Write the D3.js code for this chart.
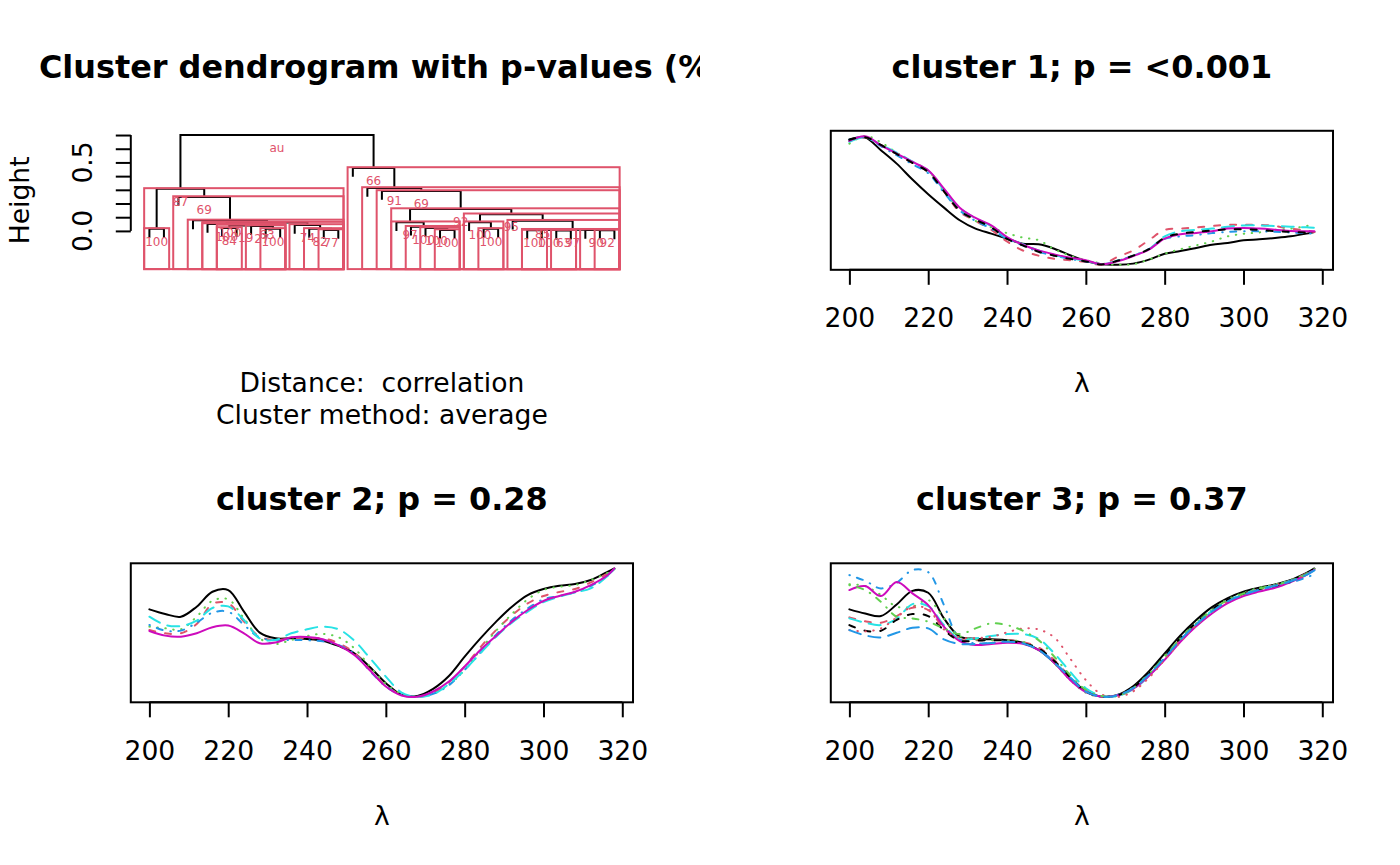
<!DOCTYPE html>
<html><head><meta charset="utf-8">
<script src="https://cdn.jsdelivr.net/npm/d3@7"></script>
<style>
html,body{margin:0;padding:0;background:#fff;}
svg{display:block;font-family:"DejaVu Sans",sans-serif;}
</style></head><body>
<svg id="chart" width="1400" height="865"></svg>
<script>
// ---------------- DATA ----------------
// dendrogram (hclust-style merge table; negative = leaf, positive = earlier merge)
const mergeLeft   = [-13,-12,-11,-9,-8,-6, 6,-5, 8,-4,-3,-1,12,-21,-20,-19,-18,-24,-23,-27,-29,20,-32,-31,22,-26,19,17,-17,-16,-15,13];
const mergeRight  = [-14,  1,  2,-10, 4,-7, 5, 7, 3, 9,10,-2,11,-22, 14, 15, 16,-25, 18,-28,-30,21,-33, 23,24, 25,26,27, 28, 29, 30,31];
const mergeHeight = [0.007,0.015,0.044,0.015,0.036,0.022,0.040,0.051,0.061,0.077,0.248,0.015,0.307,
                     0.007,0.022,0.031,0.064,0.015,0.064,0.004,0.003,0.006,0.005,0.007,0.009,0.075,0.122,0.160,0.292,0.314,0.460,0.700];
const mergeAU     = ["77","82","74","100","27","84","19","100","63","100","69","100","87",
                     "100","100","100","97","100","100","100","63","100","92","90","97","85","95","92","69","91","66","au"];
const heightTicks = [0,0.1,0.2,0.3,0.4,0.5,0.6,0.7];
const heightTickLabels = ["0.0","","","","","0.5","",""];

// spectra
const wavelengths = [200,204,208,212,216,220,224,228,232,236,240,244,248,252,256,260,264,268,272,276,280,284,288,292,296,300,304,308,312,316,318];
const xTicks = [200,220,240,260,280,300,320];

const c1s1 = [0.972,0.987,0.889,0.785,0.661,0.547,0.443,0.345,0.280,0.241,0.202,0.163,0.158,0.124,0.073,0.028,0.003,0.000,0.008,0.039,0.085,0.106,0.130,0.155,0.168,0.189,0.197,0.207,0.220,0.241,0.254];
const c1s2 = [0.96,0.99,0.93,0.86,0.79,0.72,0.57,0.41,0.34,0.27,0.18,0.11,0.07,0.045,0.035,0.02,0.0,0.06,0.11,0.19,0.27,0.28,0.29,0.30,0.31,0.31,0.31,0.30,0.28,0.265,0.254];
const c1s3 = [0.94,1.0,0.95,0.87,0.80,0.73,0.57,0.43,0.34,0.29,0.245,0.21,0.19,0.12,0.07,0.035,0.01,0.0,0.003,0.04,0.085,0.12,0.15,0.18,0.22,0.24,0.25,0.27,0.28,0.30,0.313];
const c1s4 = [0.97,0.99,0.92,0.85,0.78,0.71,0.56,0.42,0.34,0.28,0.20,0.15,0.10,0.07,0.045,0.025,0.003,0.03,0.07,0.12,0.20,0.22,0.23,0.245,0.255,0.26,0.26,0.255,0.25,0.245,0.24];
const c1s5 = [0.955,0.99,0.93,0.87,0.80,0.73,0.58,0.44,0.36,0.30,0.21,0.16,0.11,0.075,0.05,0.03,0.005,0.03,0.07,0.12,0.22,0.26,0.27,0.28,0.295,0.305,0.305,0.30,0.295,0.29,0.287];
const c1s6 = [0.961,0.997,0.927,0.863,0.798,0.733,0.591,0.443,0.363,0.306,0.215,0.155,0.111,0.080,0.054,0.034,0.003,0.026,0.067,0.117,0.202,0.236,0.246,0.259,0.280,0.285,0.280,0.272,0.262,0.259,0.259];
const c1s7 = [0.97,0.99,0.93,0.86,0.79,0.72,0.57,0.42,0.35,0.29,0.20,0.15,0.10,0.07,0.045,0.025,0.002,0.03,0.07,0.12,0.21,0.24,0.255,0.265,0.275,0.275,0.27,0.26,0.255,0.25,0.246];

const c2s1 = [0.682,0.646,0.625,0.703,0.819,0.832,0.664,0.501,0.457,0.457,0.452,0.439,0.398,0.341,0.233,0.109,0.018,0.010,0.065,0.165,0.315,0.457,0.587,0.703,0.793,0.840,0.866,0.879,0.910,0.969,1.0];
const c2s2 = [0.522,0.496,0.496,0.568,0.724,0.729,0.587,0.470,0.444,0.457,0.457,0.457,0.419,0.346,0.212,0.088,0.021,0.003,0.031,0.116,0.238,0.388,0.522,0.636,0.729,0.786,0.817,0.840,0.891,0.956,0.997];
const c2s3 = [0.548,0.535,0.527,0.625,0.749,0.760,0.612,0.457,0.413,0.444,0.475,0.491,0.465,0.380,0.238,0.103,0.026,0.003,0.026,0.096,0.212,0.367,0.517,0.646,0.760,0.832,0.858,0.871,0.910,0.961,0.992];
const c2s4 = [0.561,0.517,0.517,0.579,0.656,0.664,0.561,0.463,0.444,0.444,0.442,0.434,0.406,0.336,0.202,0.083,0.018,0.003,0.026,0.093,0.212,0.346,0.486,0.599,0.690,0.760,0.786,0.814,0.863,0.941,0.995];
const c2s5 = [0.625,0.561,0.553,0.594,0.693,0.705,0.599,0.457,0.444,0.496,0.527,0.548,0.527,0.439,0.302,0.160,0.036,0.003,0.023,0.103,0.212,0.341,0.470,0.579,0.664,0.739,0.780,0.814,0.845,0.935,0.995];
const c2s6 = [0.514,0.478,0.470,0.496,0.543,0.556,0.496,0.419,0.424,0.465,0.468,0.450,0.403,0.328,0.207,0.083,0.013,0.003,0.044,0.121,0.238,0.367,0.478,0.587,0.677,0.747,0.786,0.819,0.871,0.941,1.0];

const c3s1 = [0.682,0.650,0.630,0.720,0.826,0.811,0.612,0.470,0.454,0.449,0.443,0.423,0.367,0.268,0.147,0.048,0.004,0.017,0.085,0.20,0.34,0.48,0.60,0.70,0.77,0.82,0.85,0.875,0.91,0.965,1.0];
const c3s2 = [0.620,0.589,0.578,0.630,0.695,0.677,0.534,0.449,0.443,0.443,0.443,0.428,0.386,0.288,0.159,0.050,0.004,0.014,0.07,0.18,0.31,0.45,0.57,0.67,0.75,0.80,0.84,0.87,0.905,0.96,0.995];
const c3s3 = [0.878,0.863,0.793,0.703,0.703,0.754,0.612,0.475,0.449,0.443,0.443,0.430,0.371,0.263,0.134,0.035,0.001,0.017,0.075,0.185,0.32,0.46,0.58,0.68,0.76,0.81,0.85,0.875,0.91,0.96,0.995];
const c3s4 = [0.948,0.904,0.845,0.889,0.987,0.971,0.715,0.449,0.418,0.421,0.428,0.418,0.367,0.276,0.147,0.043,0.004,0.017,0.065,0.17,0.30,0.44,0.56,0.66,0.74,0.79,0.83,0.86,0.89,0.93,0.955];
const c3s5 = [0.612,0.578,0.560,0.609,0.723,0.707,0.560,0.452,0.457,0.475,0.490,0.490,0.454,0.340,0.198,0.069,0.009,0.009,0.06,0.165,0.30,0.44,0.565,0.67,0.75,0.80,0.84,0.87,0.905,0.955,0.99];
const c3s6 = [0.832,0.863,0.785,0.894,0.806,0.715,0.547,0.436,0.405,0.413,0.423,0.415,0.367,0.268,0.134,0.040,0.004,0.014,0.065,0.165,0.29,0.43,0.55,0.65,0.73,0.785,0.82,0.85,0.895,0.95,0.99];
const c3s7 = [0.560,0.516,0.516,0.600,0.646,0.630,0.521,0.439,0.439,0.443,0.439,0.418,0.379,0.281,0.159,0.043,0.004,0.014,0.075,0.185,0.32,0.46,0.58,0.68,0.755,0.805,0.84,0.865,0.9,0.955,0.99];
const c3s8 = [0.521,0.511,0.534,0.620,0.703,0.682,0.526,0.464,0.459,0.469,0.503,0.534,0.526,0.464,0.301,0.133,0.022,0.001,0.045,0.15,0.29,0.43,0.555,0.66,0.745,0.80,0.84,0.87,0.905,0.955,0.99];
const c3s9 = [0.870,0.832,0.741,0.625,0.612,0.586,0.534,0.490,0.534,0.573,0.560,0.516,0.443,0.314,0.172,0.056,0.009,0.009,0.07,0.18,0.315,0.455,0.575,0.675,0.755,0.805,0.845,0.87,0.905,0.955,0.99];
const c3s10= [0.521,0.480,0.464,0.500,0.539,0.534,0.449,0.413,0.413,0.421,0.431,0.418,0.367,0.268,0.154,0.043,0.004,0.014,0.07,0.175,0.305,0.445,0.565,0.665,0.745,0.795,0.835,0.865,0.9,0.95,0.985];

const panelTitles = ["Cluster dendrogram with p-values (%)","cluster 1; p = <0.001","cluster 2; p = 0.28","cluster 3; p = 0.37"];
const subTitles = ["Distance:  correlation","Cluster method: average"];
const seriesColors = ["#000000","#DF536B","#61D04F","#2297E6","#28E2E5","#CD0BBC"];
const seriesDash = [null,"6,10","0.5,7.5","0.5,7.5,6,8","12,8"];

// ---------------- LAYOUT ----------------
const svg = d3.select("#chart");
const lineH = 31.9, FS = 26.6, FSmain = 31.9;
function plotBox(col,row){
  const x0=col*700, y0=row*432.5;
  return {fx0:x0, fx1:x0+700, fy0:y0, fy1:y0+432.5,
          l:x0+4.1*lineH, r:x0+700-2.1*lineH, t:y0+4.1*lineH, b:y0+432.5-5.1*lineH};
}

// ---------------- DENDROGRAM PANEL ----------------
(function(){
  const B = plotBox(0,0);
  const nLeaves = mergeLeft.length+1;
  const ext = (nLeaves-1)*0.04;
  const x = d3.scaleLinear().domain([1-ext, nLeaves+ext]).range([B.l,B.r]);
  const y = d3.scaleLinear().domain([-0.284,0.731]).range([B.b,B.t]);
  const hang = 0.065;
  const g = svg.append("g");

  const nodeX = [], members = [];
  const pos = v => v<0 ? -v : nodeX[v-1];
  const mem = v => v<0 ? [-v] : members[v-1];
  for(let i=0;i<mergeLeft.length;i++){
    nodeX.push((pos(mergeLeft[i])+pos(mergeRight[i]))/2);
    members.push(mem(mergeLeft[i]).concat(mem(mergeRight[i])));
  }
  for(let i=0;i<mergeLeft.length;i++){
    const h = mergeHeight[i];
    const kids = [mergeLeft[i], mergeRight[i]];
    const kx = kids.map(pos);
    const ky = kids.map(v => v<0 ? h-hang : mergeHeight[v-1]);
    const p = d3.path();
    p.moveTo(x(kx[0]),y(ky[0])); p.lineTo(x(kx[0]),y(h)); p.lineTo(x(kx[1]),y(h)); p.lineTo(x(kx[1]),y(ky[1]));
    g.append("path").attr("d",p.toString()).attr("fill","none").attr("stroke","#000").attr("stroke-width",2);
  }
  for(let i=0;i<mergeLeft.length;i++){
    g.append("text").attr("x",x(nodeX[i])).attr("y",y(mergeHeight[i])+16.9)
      .attr("text-anchor","middle").attr("font-size",12).attr("fill","#DF536B").text(mergeAU[i]);
  }
  const usr = y.domain(), xd = x.domain();
  const my = (usr[1]-usr[0])/200, mx = (xd[1]-xd[0])/mergeLeft.length/3;
  for(let i=mergeLeft.length-2;i>=0;i--){
    const xl = d3.min(members[i]), xr = d3.max(members[i]);
    const x1 = x(xl-mx), x2 = x(xr+mx), y1 = y(mergeHeight[i]+my), y2 = y(usr[0]+my);
    g.append("rect").attr("x",x1).attr("y",y1).attr("width",x2-x1).attr("height",y2-y1)
      .attr("fill","none").attr("stroke","#DF536B").attr("stroke-width",2);
  }
  const ax = g.append("g").attr("transform",`translate(${B.l},0)`)
    .call(d3.axisLeft(y).tickValues(heightTicks).tickSize(15).tickSizeOuter(0).tickFormat(""));
  ax.select(".domain").remove();
  ax.selectAll(".tick line").attr("stroke","#000").attr("stroke-width",2);
  g.append("line").attr("x1",B.l).attr("x2",B.l).attr("y1",y(heightTicks[0])).attr("y2",y(heightTicks[heightTicks.length-1]))
    .attr("stroke","#000").attr("stroke-width",2);
  heightTicks.forEach((t,i)=>{
    if(!heightTickLabels[i]) return;
    const tx = B.l-38.8, ty = y(t);
    g.append("text").attr("x",tx).attr("y",ty).attr("transform",`rotate(-90,${tx},${ty})`)
      .attr("text-anchor","middle").attr("font-size",FS).text(heightTickLabels[i]);
  });
  const hx = 29, hy = (B.t+B.b)/2;
  g.append("text").attr("x",hx).attr("y",hy).attr("transform",`rotate(-90,${hx},${hy})`)
    .attr("text-anchor","middle").attr("font-size",FS).text("Height");
  svg.append("clipPath").attr("id","fig0").append("rect").attr("x",0).attr("y",0).attr("width",700).attr("height",432.5);
  svg.append("text").attr("clip-path","url(#fig0)").attr("x",(B.l+B.r)/2).attr("y",77.5)
    .attr("text-anchor","middle").attr("font-size",FSmain).attr("font-weight","bold").text(panelTitles[0]);
  subTitles.forEach((s,i)=>{
    svg.append("text").attr("x",(B.l+B.r)/2).attr("y",391.7+i*lineH).attr("text-anchor","middle")
      .attr("font-size",FS).style("white-space","pre").text(s);
  });
})();

// ---------------- SPECTRA PANELS ----------------
function spectraPanel(col,row,title,series){
  const B = plotBox(col,row);
  const dx = (wavelengths[wavelengths.length-1]-wavelengths[0])*0.04;
  const x = d3.scaleLinear().domain([wavelengths[0]-dx, wavelengths[wavelengths.length-1]+dx]).range([B.l,B.r]);
  const y = d3.scaleLinear().domain([-0.04,1.04]).range([B.b,B.t]);
  const g = svg.append("g");
  const line = d3.line().x((d,i)=>x(wavelengths[i])).y(d=>y(d)).curve(d3.curveCatmullRom.alpha(0.5));
  series.forEach((s,i)=>{
    const p = g.append("path").datum(s).attr("d",line).attr("fill","none")
      .attr("stroke",seriesColors[i%6]).attr("stroke-width",2).attr("stroke-linecap","round").attr("stroke-linejoin","round");
    const da = seriesDash[i%5]; if(da) p.attr("stroke-dasharray",da);
  });
  g.append("rect").attr("x",B.l).attr("y",B.t).attr("width",B.r-B.l).attr("height",B.b-B.t)
    .attr("fill","none").attr("stroke","#000").attr("stroke-width",2);
  const ax = g.append("g").attr("transform",`translate(0,${B.b})`)
    .call(d3.axisBottom(x).tickValues(xTicks).tickSize(15).tickSizeOuter(0).tickPadding(23.8));
  ax.select(".domain").remove();
  ax.selectAll(".tick line").attr("stroke","#000").attr("stroke-width",2);
  ax.selectAll(".tick text").attr("font-size",FS).attr("font-family","DejaVu Sans").attr("fill","#000");
  g.append("line").attr("x1",x(xTicks[0])).attr("x2",x(xTicks[xTicks.length-1])).attr("y1",B.b).attr("y2",B.b)
    .attr("stroke","#000").attr("stroke-width",2);
  svg.append("text").attr("x",(B.l+B.r)/2).attr("y",B.fy0+77.5).attr("text-anchor","middle")
    .attr("font-size",FSmain).attr("font-weight","bold").text(title);
  svg.append("text").attr("x",(B.l+B.r)/2).attr("y",B.b+122.2).attr("text-anchor","middle")
    .attr("font-size",FS).text("λ");
}
spectraPanel(1,0,panelTitles[1],[c1s1,c1s2,c1s3,c1s4,c1s5,c1s6,c1s7]);
spectraPanel(0,1,panelTitles[2],[c2s1,c2s2,c2s3,c2s4,c2s5,c2s6]);
spectraPanel(1,1,panelTitles[3],[c3s1,c3s2,c3s3,c3s4,c3s5,c3s6,c3s7,c3s8,c3s9,c3s10]);
</script></body></html>
